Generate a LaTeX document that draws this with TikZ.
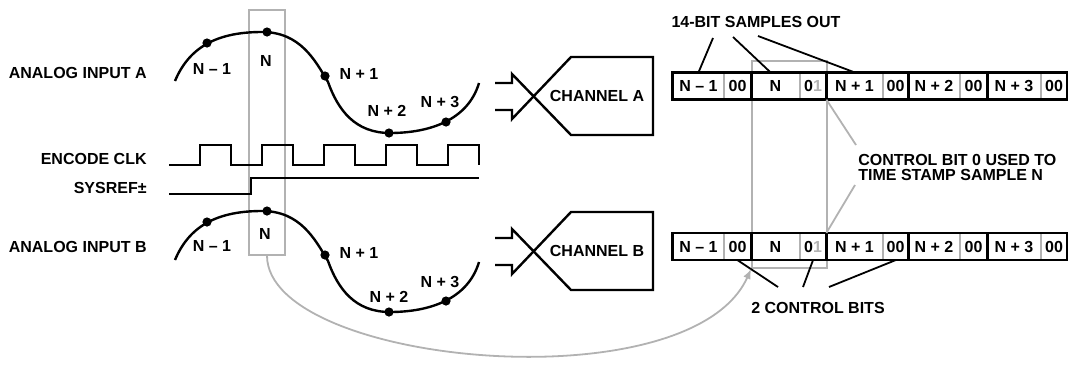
\documentclass[tikz,border=0pt]{standalone}
\usepackage{fontspec}
\setmainfont{Liberation Sans}
\usetikzlibrary{positioning, arrows.meta, calc}
\definecolor{wingray}{RGB}{178,178,178}

\begin{document}
\begin{tikzpicture}[
    x=0.5pt, y=-0.5pt,
    txt/.style={font=\bfseries\fontsize{8}{7.5}\selectfont, inner sep=0pt},
    lbl/.style={txt, anchor=east},
    cell/.style={txt, minimum height=13.25pt},
    sig/.style={line width=1.2pt},
    win/.style={draw=wingray, line width=0.9pt, inner sep=0pt},
    sepbit/.style={draw=wingray, line width=0.9pt},
    dot/.style={circle, fill=black, inner sep=0pt, minimum size=4.6pt},
    callout/.style={line width=0.9pt},
    gcallout/.style={draw=wingray, line width=0.9pt},
    garrow/.style={-{Latex[length=5pt, width=4pt]}, draw=wingray, line width=0.9pt}
  ]
  \useasboundingbox (0,0) rectangle (1068,370);

  % Sample windows
  \node[win, minimum width=18pt, minimum height=122.5pt] (selin) at (267,132.5) {};
  \node[win, minimum width=37.5pt, minimum height=103.5pt] (selout) at (789.5,164.5) {};

  % Left labels
  \node[lbl] (ina) at (147,73) {ANALOG INPUT A};
  \node[lbl] (clk) at (147,159) {ENCODE CLK};
  \node[lbl] (sref) at (147,188) {SYSREF±};
  \node[lbl] (inb) at (147,247) {ANALOG INPUT B};

  % Analog inputs
  \foreach \dy in {0,179} {
    \draw[sig, shift={(0,\dy)}] (175,81) .. controls (190,45) and (220,32) .. (262,32)
      .. controls (300,32) and (315,60) .. (328,82)
      .. controls (338,110) and (355,133) .. (390,133)
      .. controls (430,133) and (468,120) .. (479,83);
  }
  \node[dot] (a1) at (207,43) {};
  \node[dot] (a2) at (267,32) {};
  \node[dot] (a3) at (325,76) {};
  \node[dot] (a4) at (389,133) {};
  \node[dot] (a5) at (446,122) {};
  \node[dot] (b1) at (207,222) {};
  \node[dot] (b2) at (267,211) {};
  \node[dot] (b3) at (325,255) {};
  \node[dot] (b4) at (389,312) {};
  \node[dot] (b5) at (446,301) {};

  \node[txt] (la1) at (212,69) {N -- 1};
  \node[txt] (la2) at (266,61) {N};
  \node[txt] (la3) at (359,74) {N + 1};
  \node[txt] (la4) at (387,111) {N + 2};
  \node[txt] (la5) at (440,102) {N + 3};
  \node[txt] (lb1) at (212,246) {N -- 1};
  \node[txt] (lb2) at (265,234) {N};
  \node[txt] (lb3) at (359,253) {N + 1};
  \node[txt] (lb4) at (389,297) {N + 2};
  \node[txt] (lb5) at (440,282) {N + 3};

  % Clock and SYSREF
  \draw[sig] (169,165) foreach \x in {200,262,324,386,448} { -- (\x,165) -- (\x,145) -- (\x+31,145) -- (\x+31,165) };
  \draw[sig] (169,194) -- (251,194) -- (251,178) -- (479,178);

  % Channels
  \foreach \dy in {0,155} {
    \draw[sig, shift={(0,\dy)}] (495,83) -- (512,83) -- (512,74) -- (571,135) -- (653,135)
      -- (653,57) -- (571,57) -- (512,119) -- (512,110) -- (495,110);
  }
  \node[txt] (cha) at (597,96) {CHANNEL A};
  \node[txt] (chb) at (597,251) {CHANNEL B};

  % Output words
  \foreach \row/\yy in {a/86, b/246.5} {
    \foreach \nm/\l/\r/\t in {s1/673/724/{N -- 1}, c1/724/751/00, s2/751/800/N, c2/800/826/{0\textcolor{wingray}{1}},
        s3/826/883/{N + 1}, c3/883/908/00, s4/908/960/{N + 2}, c4/960/987/00, s5/987/1041/{N + 3}, c5/1041/1067/00}
      \node[cell, minimum width={(\r-\l)*0.5pt}] (\row\nm) at ({(\l+\r)/2},\yy) {\t};
    \foreach \k in {1,...,5}
      \draw[sepbit] (\row c\k.north west) -- (\row c\k.south west);
    \foreach \k in {1,...,4}
      \draw[sig] (\row c\k.north east) -- (\row c\k.south east);
    \draw[sig] (\row s1.north west) rectangle (\row c5.south east);
  }

  % Callouts
  \node[txt] (sout) at (756,22) {14-BIT SAMPLES OUT};
  \coordinate (so1) at (713,38);
  \coordinate (so2) at (733,37);
  \coordinate (so3) at (758,36);
  \draw[callout] (so1) -- (as1.north);
  \draw[callout] (so2) -- ($(as2.north)+(-5,0)$);
  \draw[callout] (so3) -- (as3.north);

  \node[txt, anchor=west, align=left] (ctl) at (858,167.5) {CONTROL BIT 0 USED TO\\TIME STAMP SAMPLE N};
  \coordinate (ct1) at (856,145);
  \coordinate (ct2) at (855,185);
  \draw[gcallout] (ct1) -- (ac2.south east);
  \draw[gcallout] (ct2) -- (bc2.north east);

  \node[txt] (cbits) at (818,308) {2 CONTROL BITS};
  \coordinate (cb1) at (778,287);
  \coordinate (cb2) at (803,287);
  \coordinate (cb3) at (829,287);
  \draw[callout] (cb1) -- (bc1.south);
  \draw[callout] (cb2) -- (bc2.south);
  \draw[callout] (cb3) -- (bc3.south);

  % Time stamp path
  \draw[garrow] (selin.south) .. controls (268,365) and (690,405) .. (selout.south west);
\end{tikzpicture}
\end{document}
